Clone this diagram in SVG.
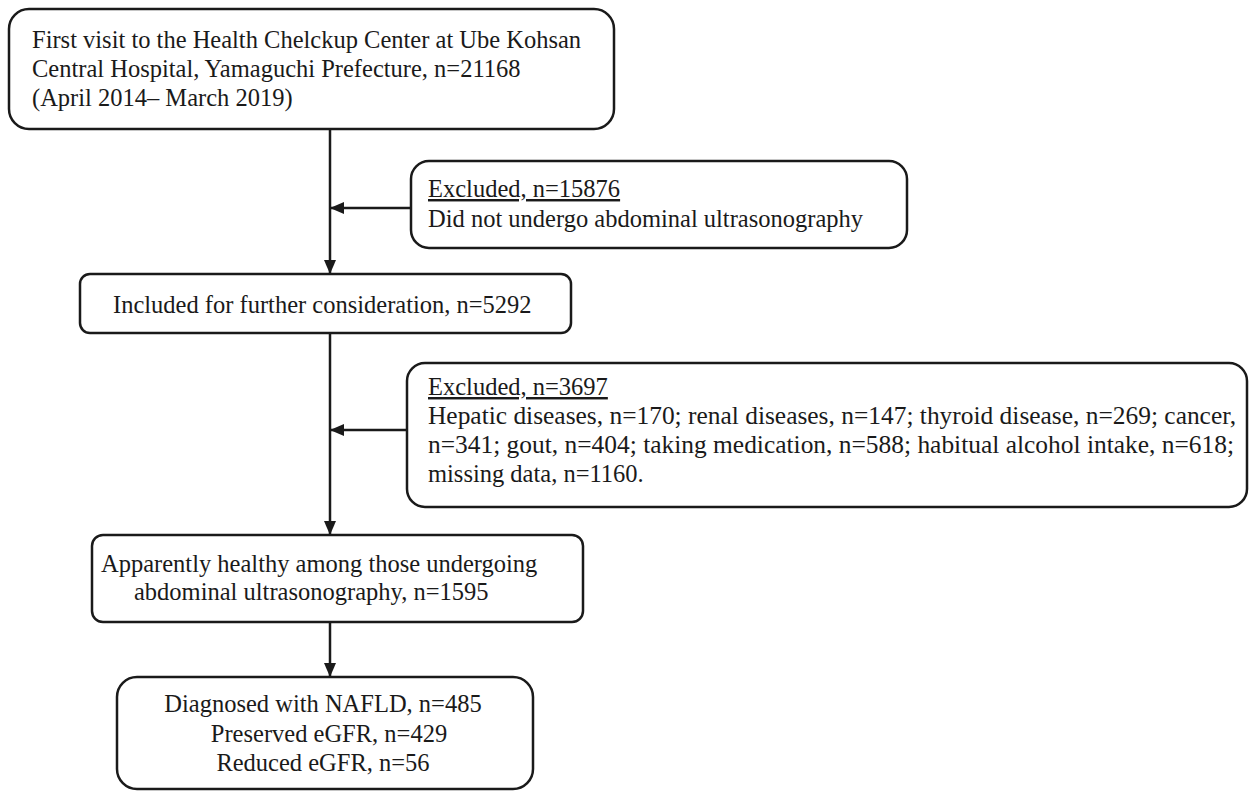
<svg xmlns="http://www.w3.org/2000/svg" width="1253" height="791" viewBox="0 0 1253 791">
<style>
.box{fill:#fff;stroke:#1a1a1a;stroke-width:2.5}
.t{font-family:"Liberation Serif","Times New Roman",serif;font-size:24.5px;fill:#1a1a1a}
.c{text-anchor:middle}
.ln{stroke:#1a1a1a;stroke-width:2.5;fill:none}
</style>
<defs>
<marker id="ah" markerWidth="14" markerHeight="12" refX="13" refY="6" orient="auto" markerUnits="userSpaceOnUse" viewBox="0 0 14 12">
<path d="M0,0 L14,6 L0,12 z" fill="#1a1a1a"/>
</marker>
</defs>
<rect width="1253" height="791" fill="#fff"/>
<g id="connectors">
<line class="ln" x1="330" y1="129" x2="330" y2="273" marker-end="url(#ah)"/>
<line class="ln" x1="411" y1="208" x2="331" y2="208" marker-end="url(#ah)"/>
<line class="ln" x1="330" y1="333" x2="330" y2="534" marker-end="url(#ah)"/>
<line class="ln" x1="407" y1="430" x2="331" y2="430" marker-end="url(#ah)"/>
<line class="ln" x1="330" y1="622" x2="330" y2="676" marker-end="url(#ah)"/>
</g>
<g id="n1">
<rect class="box" x="9" y="9" width="605" height="120" rx="20"/>
<text class="t" x="32" y="48">First visit to the Health Chelckup Center at Ube Kohsan</text>
<text class="t" x="32" y="77">Central Hospital, Yamaguchi Prefecture, n=21168</text>
<text class="t" x="32" y="106">(April 2014– March 2019)</text>
</g>
<g id="ex1">
<rect class="box" x="411" y="161" width="496" height="87" rx="18"/>
<text class="t" x="428" y="197" text-decoration="underline">Excluded, n=15876</text>
<text class="t" x="428" y="227">Did not undergo abdominal ultrasonography</text>
</g>
<g id="n2">
<rect class="box" x="80" y="274" width="491" height="59" rx="10"/>
<text class="t" x="113" y="313">Included for further consideration, n=5292</text>
</g>
<g id="ex2">
<rect class="box" x="407" y="363" width="840" height="144" rx="18"/>
<text class="t" x="428" y="395" text-decoration="underline">Excluded, n=3697</text>
<text class="t" x="428" y="424" textLength="808" lengthAdjust="spacingAndGlyphs">Hepatic diseases, n=170; renal diseases, n=147; thyroid disease, n=269; cancer,</text>
<text class="t" x="428" y="453" textLength="806" lengthAdjust="spacingAndGlyphs">n=341; gout, n=404; taking medication, n=588; habitual alcohol intake, n=618;</text>
<text class="t" x="428" y="482">missing data, n=1160.</text>
</g>
<g id="n3">
<rect class="box" x="92" y="535" width="491" height="87" rx="11"/>
<text class="t" x="101" y="572">Apparently healthy among those undergoing</text>
<text class="t" x="134" y="600">abdominal ultrasonography, n=1595</text>
</g>
<g id="n4">
<rect class="box" x="117" y="677" width="416" height="112" rx="20"/>
<text class="t c" x="323" y="712">Diagnosed with NAFLD, n=485</text>
<text class="t c" x="329" y="742">Preserved eGFR, n=429</text>
<text class="t c" x="323" y="771">Reduced eGFR, n=56</text>
</g>
</svg>
